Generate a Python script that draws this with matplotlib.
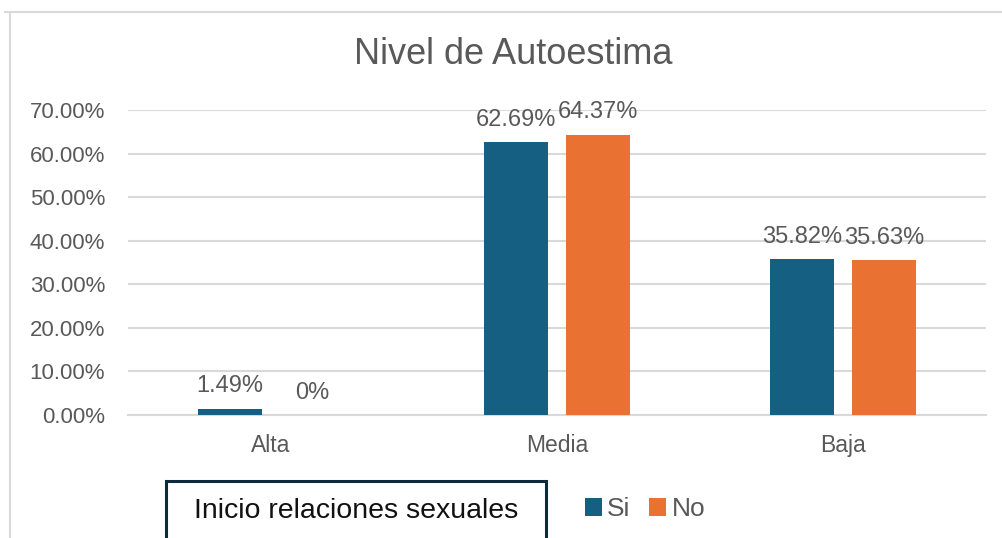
import numpy as np
import matplotlib
matplotlib.use('Agg')
import matplotlib.pyplot as plt
from matplotlib.patches import Rectangle
from matplotlib.lines import Line2D

# Data
categories = ['Alta', 'Media', 'Baja']
si_values = [1.49, 62.69, 35.82]
no_values = [0.0, 64.37, 35.63]
series_names = ['Si', 'No']
y_ticks = [0, 10, 20, 30, 40, 50, 60, 70]

plt.rcParams['font.family'] = ['Liberation Sans', 'DejaVu Sans']
gray_text = '#595959'
grid_gray = '#d9d9d9'
col_si = '#156082'
col_no = '#e97132'

fig = plt.figure(figsize=(10.02, 5.38), dpi=100)
ax = fig.add_axes([128/1002, 1 - 415/538, (986 - 128)/1002, (415 - 110)/538])

x = np.arange(len(categories))
w = 0.223
off = 0.143
b1 = ax.bar(x - off, si_values, w, color=col_si, label=series_names[0], zorder=3)
b2 = ax.bar(x + off, no_values, w, color=col_no, label=series_names[1], zorder=3)

def lab(v):
    return '0%' if v == 0 else f'{v:.2f}%'

for bars, vals in [(b1, si_values), (b2, no_values)]:
    for rect, v in zip(bars, vals):
        ax.annotate(lab(v), (rect.get_x() + rect.get_width()/2, v),
                    xytext=(0, 8), textcoords='offset points',
                    ha='center', va='bottom', fontsize=17, color=gray_text,
                    clip_on=False)

ax.set_xlim(-0.5, 2.5)
ax.set_ylim(0, 70)
ax.set_yticks(y_ticks)
ax.set_yticklabels([f'{t:.2f}%' for t in y_ticks])
ax.set_xticks(x)
ax.set_xticklabels(categories)
ax.tick_params(axis='y', length=0, pad=16.5, labelsize=16, labelcolor=gray_text)
ax.tick_params(axis='x', length=0, pad=14, labelsize=16.5, labelcolor=gray_text)
ax.yaxis.grid(True, color=grid_gray, linewidth=1.5, zorder=0)
ax.set_axisbelow(True)
for s in ['top', 'right', 'left']:
    ax.spines[s].set_visible(False)
ax.spines['bottom'].set_color(grid_gray)
ax.spines['bottom'].set_linewidth(1.5)

fig.text(513/1002, 1 - 55/538, 'Nivel de Autoestima', ha='center', va='center',
         fontsize=26, color=gray_text)

# chart border (cut off at right and bottom)
fig.add_artist(Line2D([5/1002, 1], [1 - 12/538, 1 - 12/538], color=grid_gray, linewidth=1.5))
fig.add_artist(Line2D([10/1002, 10/1002], [0, 1 - 12/538], color=grid_gray, linewidth=1.5))

# legend title box
fig.add_artist(Rectangle((166/1002, -0.05), (546 - 166)/1002, 0.05 + 1 - 481/538,
                         transform=fig.transFigure, facecolor='white',
                         edgecolor='#0e2b3d', linewidth=2.2))
fig.text(356/1002, 1 - 511/538, 'Inicio relaciones sexuales', ha='center', va='center',
         fontsize=20.5, color='#111111')

fig.legend(handles=[b1, b2], loc='center left', bbox_to_anchor=(561/1002, 1 - 509/538),
           frameon=False, ncol=2, fontsize=19, handlelength=0.65, handleheight=0.65,
           handletextpad=0.2, columnspacing=0.7, labelcolor=gray_text)

fig.savefig('out.png', dpi=100)
